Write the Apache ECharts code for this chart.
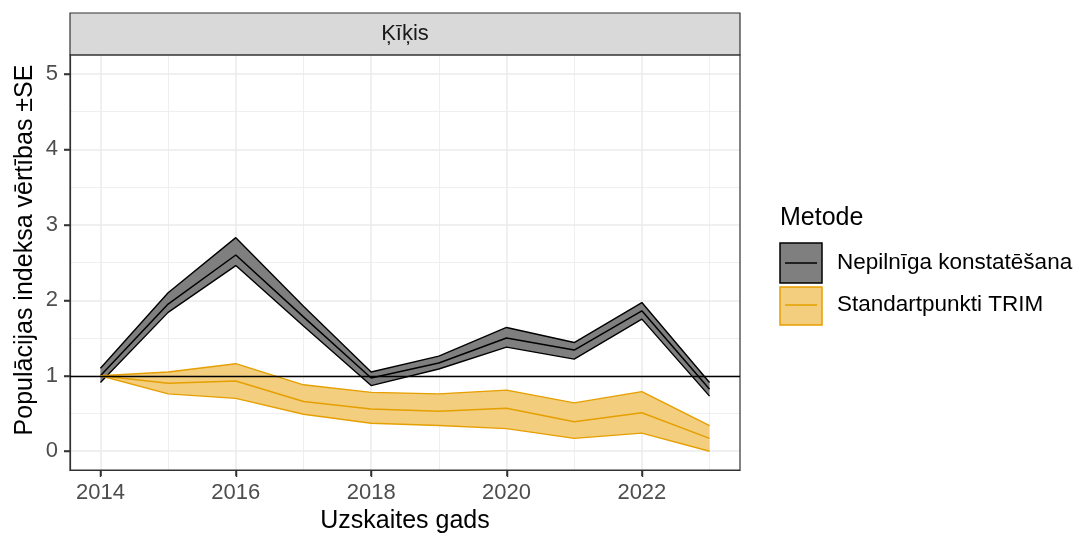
<!DOCTYPE html>
<html>
<head>
<meta charset="utf-8">
<script src="https://cdn.jsdelivr.net/npm/echarts@6/dist/echarts.min.js"></script>
<style>
  html, body { margin: 0; padding: 0; background: #fff; }
  #chart { width: 1082px; height: 539px; }
</style>
</head>
<body>
<div id="chart"></div>
<script>
// data
var years = [2014, 2015, 2016, 2017, 2018, 2019, 2020, 2021, 2022, 2023];

var nepMean = [1.00, 1.95, 2.60, 1.78, 0.97, 1.17, 1.50, 1.34, 1.86, 0.82];
var nepLo   = [0.91, 1.84, 2.46, 1.66, 0.87, 1.09, 1.38, 1.22, 1.75, 0.73];
var nepHi   = [1.10, 2.10, 2.83, 1.92, 1.05, 1.26, 1.64, 1.44, 1.97, 0.91];

var trimMean = [1.00, 0.90, 0.93, 0.66, 0.56, 0.53, 0.57, 0.39, 0.51, 0.17];
var trimLo   = [1.00, 0.76, 0.70, 0.49, 0.37, 0.34, 0.30, 0.17, 0.24, 0.00];
var trimHi   = [1.00, 1.05, 1.16, 0.88, 0.78, 0.76, 0.81, 0.64, 0.79, 0.34];

var methods = ['Nepilnīga konstatēšana', 'Standartpunkti TRIM'];
var facetTitle = 'Ķīķis';
var legendTitle = 'Metode';
var xTitle = 'Uzskaites gads';
var yTitle = 'Populācijas indeksa vērtības ±SE';

var xTicks = [2014, 2016, 2018, 2020, 2022];
var xMinor = [2015, 2017, 2019, 2021, 2023];
var yTicks = [0, 1, 2, 3, 4, 5];
var yMinor = [0.5, 1.5, 2.5, 3.5, 4.5];
var refLine = 1;

var FONT = '"Liberation Sans", Arial, sans-serif';
var colors = {
  nep: { fill: '#7F7F7F', line: '#000000' },
  trim: { fill: '#F2CE7E', line: '#E69F00' }
};

function pairs(ys) {
  return years.map(function (y, i) { return [y, ys[i]]; });
}

// ribbon fill: one polygon through lo forwards and hi backwards
function ribbon(lo, hi, fill) {
  return {
    type: 'custom', silent: true, clip: true,
    data: [0],
    renderItem: function (params, api) {
      var pts = [];
      years.forEach(function (y, i) { pts.push(api.coord([y, lo[i]])); });
      for (var i = years.length - 1; i >= 0; i--) pts.push(api.coord([years[i], hi[i]]));
      return { type: 'polygon', shape: { points: pts }, style: { fill: fill, stroke: null } };
    }
  };
}

function lineSeries(ys, color, width) {
  return {
    type: 'line', data: pairs(ys), symbol: 'none', silent: true,
    lineStyle: { color: color, width: width }
  };
}

var series = [
  ribbon(nepLo, nepHi, colors.nep.fill),
  lineSeries(nepLo, colors.nep.line, 1.4),
  lineSeries(nepHi, colors.nep.line, 1.4),
  lineSeries(nepMean, colors.nep.line, 1.5),
  ribbon(trimLo, trimHi, colors.trim.fill),
  lineSeries(trimLo, colors.trim.line, 1.4),
  lineSeries(trimHi, colors.trim.line, 1.4),
  lineSeries(trimMean, colors.trim.line, 1.5)
];

series[series.length - 1].markLine = {
  silent: true, symbol: 'none', label: { show: false },
  lineStyle: { color: '#000', width: 1.3, type: 'solid' },
  data: [{ yAxis: refLine }]
};

var gridL = 70, gridT = 55, gridR = 740, gridB = 471;
var plain = function (v) { return String(v); };
var axisEdge = { show: true, onZero: false, lineStyle: { color: '#333', width: 1.2 } };

var chart = echarts.init(document.getElementById('chart'));
chart.setOption({
  animation: false,
  backgroundColor: '#fff',
  grid: {
    left: gridL, top: gridT, width: gridR - gridL, height: gridB - gridT,
    show: true, borderColor: '#333', borderWidth: 1.2, backgroundColor: 'transparent', z: 5
  },
  xAxis: [
    {
      type: 'value', min: 2013.55, max: 2023.45,
      name: xTitle, nameLocation: 'middle', nameGap: 38,
      nameTextStyle: { fontFamily: FONT, fontSize: 25, color: '#000' },
      axisLine: axisEdge,
      axisTick: { show: true, customValues: xTicks, length: 6, lineStyle: { color: '#333', width: 1.5 } },
      axisLabel: { customValues: xTicks, formatter: plain, fontFamily: FONT, fontSize: 22, color: '#4D4D4D', margin: 12 },
      splitLine: { show: true, lineStyle: { color: '#EBEBEB', width: 1.5 } }
    },
    {
      type: 'value', min: 2013.55, max: 2023.45, position: 'top',
      axisLine: { show: false, onZero: false },
      axisTick: { show: false, customValues: xMinor },
      axisLabel: { show: false, customValues: xMinor },
      splitLine: { show: true, lineStyle: { color: '#EBEBEB', width: 0.8 } }
    }
  ],
  yAxis: [
    {
      type: 'value', min: -0.25, max: 5.25,
      axisLine: axisEdge,
      axisTick: { show: true, customValues: yTicks, length: 6, lineStyle: { color: '#333', width: 1.5 } },
      axisLabel: { customValues: yTicks, formatter: plain, fontFamily: FONT, fontSize: 22, color: '#4D4D4D', margin: 12 },
      splitLine: { show: true, lineStyle: { color: '#EBEBEB', width: 1.5 } }
    },
    {
      type: 'value', min: -0.25, max: 5.25, position: 'right',
      axisLine: { show: false, onZero: false },
      axisTick: { show: false, customValues: yMinor },
      axisLabel: { show: false, customValues: yMinor },
      splitLine: { show: true, lineStyle: { color: '#EBEBEB', width: 0.8 } }
    }
  ],
  series: series
});

// tick marks placed through the axes' own scales
var tickMarks = [];
xTicks.forEach(function (v) {
  var px = Math.round(chart.convertToPixel({ xAxisIndex: 0 }, v)) + 0.5;
  tickMarks.push({
    type: 'line', z: 100, shape: { x1: px, y1: gridB, x2: px, y2: gridB + 6 },
    style: { stroke: '#333', lineWidth: 1.5 }
  });
});
yTicks.forEach(function (v) {
  var py = Math.round(chart.convertToPixel({ yAxisIndex: 0 }, v)) + 0.5;
  tickMarks.push({
    type: 'line', z: 100, shape: { x1: gridL - 6, y1: py, x2: gridL, y2: py },
    style: { stroke: '#333', lineWidth: 1.5 }
  });
});

chart.setOption({
  graphic: tickMarks.concat([
    // facet strip
    {
      type: 'rect', shape: { x: gridL, y: 13, width: gridR - gridL, height: gridT - 13 },
      style: { fill: '#D9D9D9', stroke: '#333', lineWidth: 1.2 }
    },
    {
      type: 'text', x: (gridL + gridR) / 2, y: 34,
      style: { text: facetTitle, font: '22px ' + FONT, fill: '#1A1A1A', align: 'center', verticalAlign: 'middle' }
    },
    // y title
    {
      type: 'text', x: 25, y: 250, rotation: Math.PI / 2,
      style: { text: yTitle, font: '25px ' + FONT, fill: '#000', align: 'center', verticalAlign: 'middle' }
    },
    // legend
    {
      type: 'text', x: 780, y: 218,
      style: { text: legendTitle, font: '25px ' + FONT, fill: '#000', align: 'left', verticalAlign: 'middle' }
    },
    {
      type: 'rect', shape: { x: 780, y: 243, width: 42, height: 40 },
      style: { fill: colors.nep.fill, stroke: '#000', lineWidth: 1.5 }
    },
    {
      type: 'line', shape: { x1: 785, y1: 263, x2: 817, y2: 263 },
      style: { stroke: colors.nep.line, lineWidth: 1.5 }
    },
    {
      type: 'text', x: 837, y: 263,
      style: { text: methods[0], font: '22.5px ' + FONT, fill: '#000', align: 'left', verticalAlign: 'middle' }
    },
    {
      type: 'rect', shape: { x: 780, y: 287, width: 42, height: 38 },
      style: { fill: colors.trim.fill, stroke: colors.trim.line, lineWidth: 1.5 }
    },
    {
      type: 'line', shape: { x1: 785, y1: 305, x2: 817, y2: 305 },
      style: { stroke: colors.trim.line, lineWidth: 1.5 }
    },
    {
      type: 'text', x: 837, y: 305,
      style: { text: methods[1], font: '22.5px ' + FONT, fill: '#000', align: 'left', verticalAlign: 'middle' }
    }
  ])
});
</script>
</body>
</html>
